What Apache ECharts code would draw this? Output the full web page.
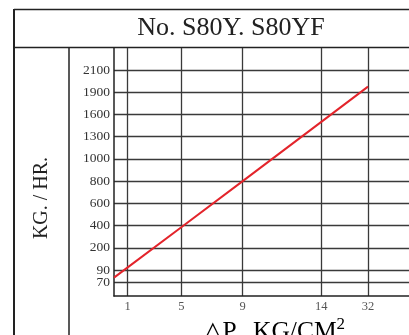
<!DOCTYPE html>
<html>
<head>
<meta charset="utf-8">
<script src="https://cdn.jsdelivr.net/npm/echarts@6/dist/echarts.min.js"></script>
<style>html,body{margin:0;padding:0;background:#fff}#c{width:409px;height:335px}</style>
</head>
<body>
<div id="c"></div>
<script>
// ---- data ----
const xTickLabels = [1, 5, 9, 14, 32];
const yTickLabels = [70, 90, 200, 400, 600, 800, 1000, 1300, 1600, 1900, 2100];
const deltaP = [0, 1, 5, 9, 14, 32];
const flowKgHr = [78, 103, 385, 800, 1500, 1950];

// ---- chart scale (non-uniform graph paper): value -> axis position ----
const xScaleVals = [0, 1, 5, 9, 14, 32];
const xScalePos  = [0, 13.7, 67.3, 128.7, 207.3, 254];
const yScaleVals = [0, 70, 90, 200, 400, 600, 800, 1000, 1300, 1600, 1900, 2100];
const yScalePos  = [0, 13.3, 26, 48.2, 70.4, 92.7, 114.9, 137.1, 159.3, 181.6, 203.8, 226];

function interp(vals, pos, v) {
  for (let i = 0; i < vals.length - 1; i++) {
    if (v <= vals[i + 1] || i === vals.length - 2) {
      const t = (v - vals[i]) / (vals[i + 1] - vals[i]);
      return pos[i] + t * (pos[i + 1] - pos[i]);
    }
  }
}
const xPos = v => interp(xScaleVals, xScalePos, v);
const yPos = v => interp(yScaleVals, yScalePos, v);
const xTickPos = xTickLabels.map(xPos);
const yTickPos = yTickLabels.map(yPos);
// labels split over two axes so that the close-set 70 / 90 labels are both kept
const yLabelPosA = yTickPos.filter((p, i) => i % 2 === 1);
const yLabelPosB = yTickPos.filter((p, i) => i % 2 === 0);
function labelFor(ticks, poss, p) {
  let best = 0, d = Infinity;
  poss.forEach((q, i) => { if (Math.abs(q - p) < d) { d = Math.abs(q - p); best = i; } });
  return String(ticks[best]);
}

const serif = '"Liberation Serif", "DejaVu Serif", serif';
const lineCol = '#3a3a3a';
const yLabelStyle = {
  margin: 4, hideOverlap: false,
  formatter: v => labelFor(yTickLabels, yTickPos, v),
  fontFamily: serif, fontSize: 13.5, color: '#333'
};

const chart = echarts.init(document.getElementById('c'), null, {renderer: 'canvas'});
chart.setOption({
  animation: false,
  backgroundColor: '#fff',
  grid: {left: 114, top: 48, bottom: 39, right: 0, containLabel: false},
  xAxis: {
    type: 'value', min: 0, max: 295,
    axisLine: {show: true, lineStyle: {color: '#222', width: 1.5}},
    axisTick: {show: false, customValues: xTickPos},
    axisLabel: {
      customValues: xTickPos, margin: 4, hideOverlap: false,
      formatter: v => labelFor(xTickLabels, xTickPos, v),
      fontFamily: serif, fontSize: 12.5, color: '#555'
    },
    splitLine: {show: true, lineStyle: {color: lineCol, width: 1.3}}
  },
  yAxis: [{
    type: 'value', min: 0, max: 248, position: 'left',
    axisLine: {show: true, lineStyle: {color: '#222', width: 1.5}},
    axisTick: {show: false, customValues: yTickPos},
    axisLabel: Object.assign({customValues: yLabelPosA}, yLabelStyle),
    splitLine: {show: true, lineStyle: {color: lineCol, width: 1.3}}
  }, {
    type: 'value', min: 0, max: 248, position: 'left', offset: 0,
    axisLine: {show: false},
    axisTick: {show: false, customValues: yLabelPosB},
    axisLabel: Object.assign({customValues: yLabelPosB}, yLabelStyle),
    splitLine: {show: false}
  }],
  series: [{
    type: 'line',
    data: deltaP.map((x, i) => [xPos(x), yPos(flowKgHr[i])]),
    showSymbol: false,
    lineStyle: {color: '#e3242b', width: 2},
    z: 5
  }],
  graphic: [
    {type: 'line', shape: {x1: 14, y1: 9.5, x2: 409, y2: 9.5}, style: {stroke: '#222', lineWidth: 1.5}},
    {type: 'line', shape: {x1: 14, y1: 9, x2: 14, y2: 335}, style: {stroke: '#222', lineWidth: 2}},
    {type: 'line', shape: {x1: 14, y1: 47.5, x2: 409, y2: 47.5}, style: {stroke: '#222', lineWidth: 1.5}},
    {type: 'line', shape: {x1: 69, y1: 48, x2: 69, y2: 335}, style: {stroke: '#222', lineWidth: 1.5}},
    {type: 'text', x: 231, y: 28, style: {text: 'No. S80Y. S80YF', font: '26px ' + serif, fill: '#222', align: 'center', verticalAlign: 'middle'}},
    {type: 'text', x: 42, y: 198, rotation: Math.PI / 2, style: {text: 'KG. / HR.', font: '20px ' + serif, fill: '#222', align: 'center', verticalAlign: 'middle'}},
    {type: 'text', x: 274, y: 332, style: {
      text: '{a|△P.  KG/CM}{s|2}',
      rich: {a: {fontFamily: serif, fontSize: 25.5, color: '#222'}, s: {fontFamily: serif, fontSize: 17, color: '#222', verticalAlign: 'top', padding: [0, 0, 15, 0]}},
      align: 'center', verticalAlign: 'middle'}}
  ]
});
</script>
</body>
</html>
